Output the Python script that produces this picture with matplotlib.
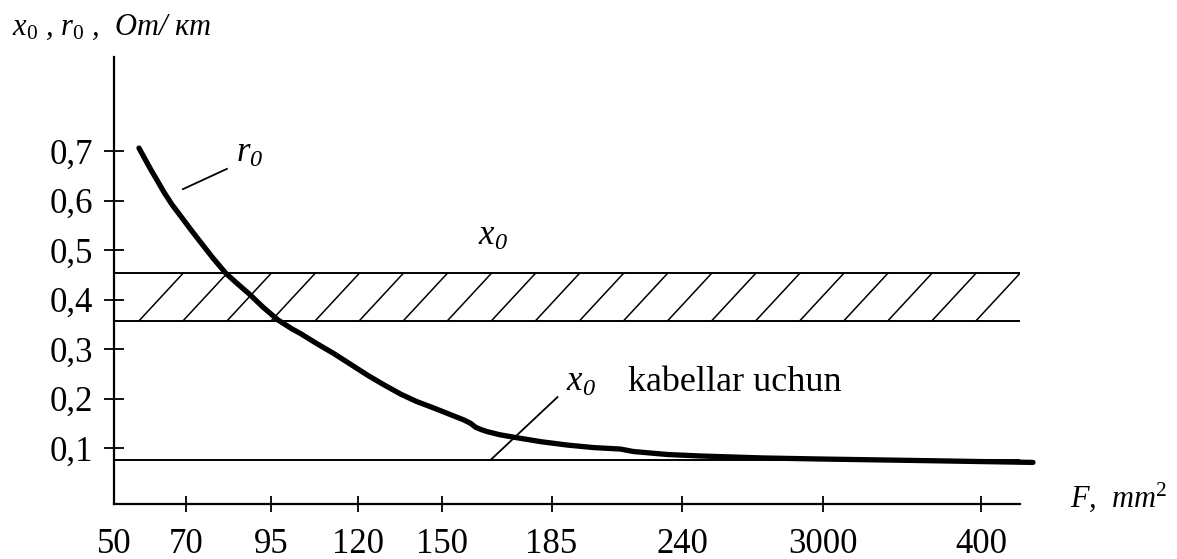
import numpy as np
import matplotlib
matplotlib.use('Agg')
import matplotlib.pyplot as plt

# Times-ga o'xshash shrift
plt.rcParams['font.family'] = ['Liberation Serif', 'DejaVu Serif']
plt.rcParams['mathtext.fontset'] = 'custom'
plt.rcParams['mathtext.rm'] = 'Liberation Serif'
plt.rcParams['mathtext.it'] = 'Liberation Serif:italic'
plt.rcParams['mathtext.default'] = 'regular'

# X o'qi: kesim yuzalari (shkala bir tekis emas, joylashuvi o'qdagi birliklarda)
f_labels = ['50', '70', '95', '120', '150', '185', '240', '3000', '400']
f_pos = [0, 72, 157, 244, 328, 438, 569, 710, 868]
x_end = 907

# Y o'qi
y_ticks = [0.1, 0.2, 0.3, 0.4, 0.5, 0.6, 0.7]
y_labels = ['0,1', '0,2', '0,3', '0,4', '0,5', '0,6', '0,7']

# r0 egri chizig'i (rasmdan o'qilgan)
r0_x = [25, 31, 37, 44, 50, 58, 67, 77, 87, 99, 112, 123, 135, 149, 164, 178,
        187, 203, 220, 237, 254, 270, 287, 303, 320, 335, 350, 357, 362, 368,
        374, 386, 400, 427, 454, 480, 507, 520, 554, 587, 650, 704, 800, 920]
r0_y = [0.706, 0.684, 0.662, 0.638, 0.617, 0.592, 0.568, 0.541, 0.515, 0.484,
        0.453, 0.433, 0.412, 0.385, 0.359, 0.341, 0.331, 0.311, 0.291, 0.269,
        0.247, 0.228, 0.209, 0.194, 0.181, 0.169, 0.157, 0.150, 0.142, 0.137,
        0.133, 0.127, 0.122, 0.113, 0.106, 0.101, 0.098, 0.093, 0.087, 0.084,
        0.080, 0.078, 0.075, 0.071]

# x0 qiymatlari: havo liniyalari oralig'i va kabellar uchun
x0_upper = 0.453
x0_lower = 0.357
x0_cable = 0.076

fig = plt.figure(figsize=(11.77, 5.59), dpi=100)
ax = fig.add_axes([114 / 1177, 55 / 559, (1020 - 114) / 1177, (504 - 57) / 559])
ax.set_xlim(0, x_end)
ax.set_ylim(-0.013, 0.89)

for s in ['top', 'right']:
    ax.spines[s].set_visible(False)
for s in ['left', 'bottom']:
    ax.spines[s].set_linewidth(1.6)

# egri chiziq
ax.plot(r0_x, r0_y, color='black', lw=3.8, solid_capstyle='round',
        solid_joinstyle='round', clip_on=False)

# x0 oralig'i (shtrixlangan)
ax.plot([0, x_end], [x0_upper, x0_upper], color='black', lw=1.4)
ax.plot([0, x_end], [x0_lower, x0_lower], color='black', lw=1.4)
step = 44.1
for xb in np.arange(25, x_end - step + 1, step):
    ax.plot([xb, xb + step], [x0_lower, x0_upper], color='black', lw=1.1)

# kabellar uchun x0
ax.plot([0, x_end], [x0_cable, x0_cable], color='black', lw=1.4)

# izoh chiziqlari va yozuvlar
ax.plot([69, 113], [0.623, 0.664], color='black', lw=1.3)
ax.text(122, 0.678, 'r$_0$', fontsize=25, style='italic', va='baseline')
ax.text(364, 0.51, 'x$_0$', fontsize=25, style='italic', va='baseline')
ax.plot([377, 444], [x0_cable, 0.203], color='black', lw=1.3)
ax.text(452, 0.215, 'x$_0$', fontsize=25, style='italic', va='baseline')
ax.text(515, 0.215, 'kabellar uchun', fontsize=26, va='baseline')

ax.set_xticks(f_pos)
ax.set_xticklabels(f_labels)
ax.set_yticks(y_ticks)
ax.set_yticklabels(y_labels)
ax.tick_params(axis='x', direction='inout', length=12, width=1.3, pad=11, labelsize=25)
ax.tick_params(axis='y', direction='inout', length=14, width=1.3, pad=8, labelsize=25)
ax.xaxis.get_major_ticks()[0].tick1line.set_visible(False)

fig.text(12 / 1177, 1 - 35 / 559, r'x$_\mathrm{0}$ , r$_\mathrm{0}$ ,  Om/ кm',
         fontsize=22, style='italic', va='baseline', ha='left')
fig.text(1070 / 1177, 1 - 507 / 559, r'F,  mm$^\mathrm{2}$',
         fontsize=22, style='italic', va='baseline', ha='left')

fig.savefig('out.png', dpi=100)
